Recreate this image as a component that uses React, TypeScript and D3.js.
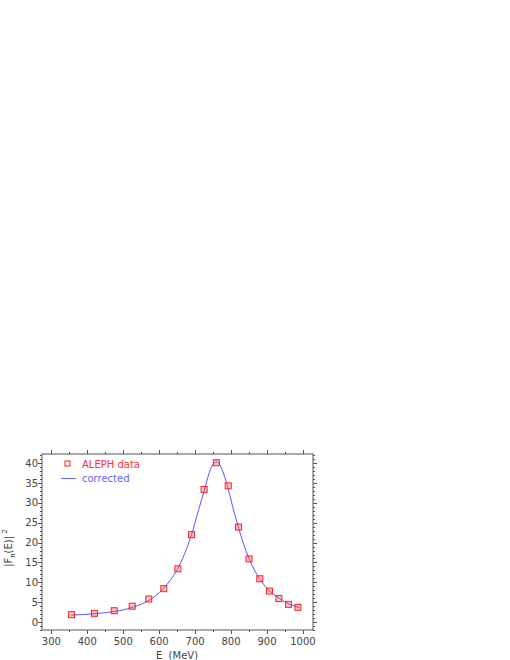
import React, { useRef, useEffect } from "react";
import * as d3 from "d3";

// ALEPH data points (E in MeV, |F|^2)
const dataE = [356, 420, 475, 525, 571, 613, 652, 690, 725, 759, 792, 821, 850, 880, 907, 933, 960, 986];
const dataF = [1.85, 2.2, 2.85, 4.0, 5.8, 8.4, 13.4, 22.0, 33.4, 40.1, 34.3, 23.9, 15.9, 10.9, 7.8, 5.9, 4.45, 3.7];

// corrected curve
const curveE = [355, 390, 420, 450, 475, 500, 525, 550, 570, 590, 610, 630, 650, 670, 690, 710, 725, 735, 745, 752, 758, 763, 768, 775, 782, 790, 805, 820, 835, 850, 865, 880, 895, 905, 920, 935, 950, 960, 975, 990];
const curveF = [1.75, 1.9, 2.1, 2.35, 2.65, 3.05, 3.7, 4.5, 5.4, 6.6, 8.3, 10.4, 13.2, 17.0, 22.0, 28.3, 33.0, 36.3, 38.9, 39.9, 40.3, 40.2, 39.7, 38.4, 36.6, 34.2, 28.9, 24.0, 19.6, 16.0, 13.1, 10.8, 9.0, 8.0, 6.9, 5.9, 5.1, 4.6, 4.1, 3.6];

const xTicks = [300, 400, 500, 600, 700, 800, 900, 1000];
const yTicks = [0, 5, 10, 15, 20, 25, 30, 35, 40];

export default function App() {
  const svgRef = useRef<SVGSVGElement>(null);

  useEffect(() => {
    const svg = d3.select(svgRef.current);
    svg.selectAll("*").remove();

    const left = 42, right = 313, top = 454, bottom = 630;
    const x = d3.scaleLinear().domain([274, 1028]).range([left, right]);
    const y = d3.scaleLinear().domain([-2, 42.3]).range([bottom, top]);

    const axisCol = "#555";
    const textCol = "#444";
    const font = "'DejaVu Sans', sans-serif";

    // frame
    svg.append("rect")
      .attr("x", left).attr("y", top)
      .attr("width", right - left).attr("height", bottom - top)
      .attr("fill", "none").attr("stroke", axisCol).attr("stroke-width", 1);

    // x ticks (major 100, minor 50), outward on top and bottom
    const xMinor = d3.range(300, 1001, 50);
    xMinor.forEach((v) => {
      const major = v % 100 === 0;
      const len = major ? 4 : 2;
      const px = Math.round(x(v)) + 0.5;
      svg.append("line").attr("x1", px).attr("x2", px)
        .attr("y1", bottom).attr("y2", bottom + len).attr("stroke", axisCol);
      svg.append("line").attr("x1", px).attr("x2", px)
        .attr("y1", top).attr("y2", top - len).attr("stroke", axisCol);
    });

    // y ticks (major 5, minor 1)
    const yMinor = d3.range(-2, 43, 1);
    yMinor.forEach((v) => {
      const major = v % 5 === 0;
      const len = major ? 4 : 2;
      const py = Math.round(y(v)) + 0.5;
      svg.append("line").attr("x1", left).attr("x2", left - len)
        .attr("y1", py).attr("y2", py).attr("stroke", axisCol);
      svg.append("line").attr("x1", right).attr("x2", right + len)
        .attr("y1", py).attr("y2", py).attr("stroke", axisCol);
    });

    svg.selectAll(".xl").data(xTicks).enter().append("text")
      .attr("x", (d) => x(d)).attr("y", 645)
      .attr("text-anchor", "middle")
      .attr("font-family", font).attr("font-size", 10).attr("fill", textCol)
      .text((d) => d);

    svg.selectAll(".yl").data(yTicks).enter().append("text")
      .attr("x", 38).attr("y", (d) => y(d) + 3.5)
      .attr("text-anchor", "end")
      .attr("font-family", font).attr("font-size", 10).attr("fill", textCol)
      .text((d) => d);

    // axis titles
    svg.append("text")
      .attr("x", 177).attr("y", 659)
      .attr("text-anchor", "middle")
      .attr("font-family", font).attr("font-size", 10).attr("fill", textCol)
      .attr("xml:space", "preserve")
      .text("E  (MeV)");

    const yt = svg.append("text")
      .attr("transform", "translate(12,548) rotate(-90)")
      .attr("text-anchor", "middle")
      .attr("font-family", font).attr("font-size", 10).attr("fill", textCol);
    yt.append("tspan").text("|F");
    yt.append("tspan").attr("font-size", 7).attr("dy", 3).text("π");
    yt.append("tspan").attr("dy", -3).text("(E)|");
    yt.append("tspan").attr("font-size", 7).attr("dy", -5).text(" 2");

    // corrected curve
    const line = d3.line<number>()
      .x((_, i) => x(curveE[i]))
      .y((d) => y(d))
      .curve(d3.curveMonotoneX);
    svg.append("path").datum(curveF)
      .attr("d", line)
      .attr("fill", "none").attr("stroke", "#5555ff").attr("stroke-width", 1);

    // data points
    svg.selectAll(".pt").data(dataF).enter().append("rect")
      .attr("x", (_, i) => x(dataE[i]) - 3)
      .attr("y", (d) => y(d) - 3)
      .attr("width", 6).attr("height", 6)
      .attr("fill", "rgba(255,80,80,0.35)")
      .attr("stroke", "#ff2020").attr("stroke-width", 1);

    // legend
    svg.append("rect").attr("x", 65).attr("y", 461)
      .attr("width", 5).attr("height", 5)
      .attr("fill", "none").attr("stroke", "#ff2020");
    svg.append("text").attr("x", 82).attr("y", 468)
      .attr("font-family", font).attr("font-size", 10).attr("fill", "#ff3030")
      .text("ALEPH data");
    svg.append("line").attr("x1", 61).attr("x2", 76)
      .attr("y1", 478.5).attr("y2", 478.5)
      .attr("stroke", "#6666ff").attr("stroke-width", 1);
    svg.append("text").attr("x", 82).attr("y", 482)
      .attr("font-family", font).attr("font-size", 10).attr("fill", "#6666ff")
      .text("corrected");
  }, []);

  return (
    <svg
      ref={svgRef}
      width={510}
      height={660}
      style={{ position: "absolute", left: 0, top: 0, display: "block", background: "#fff" }}
    ></svg>
  );
}
